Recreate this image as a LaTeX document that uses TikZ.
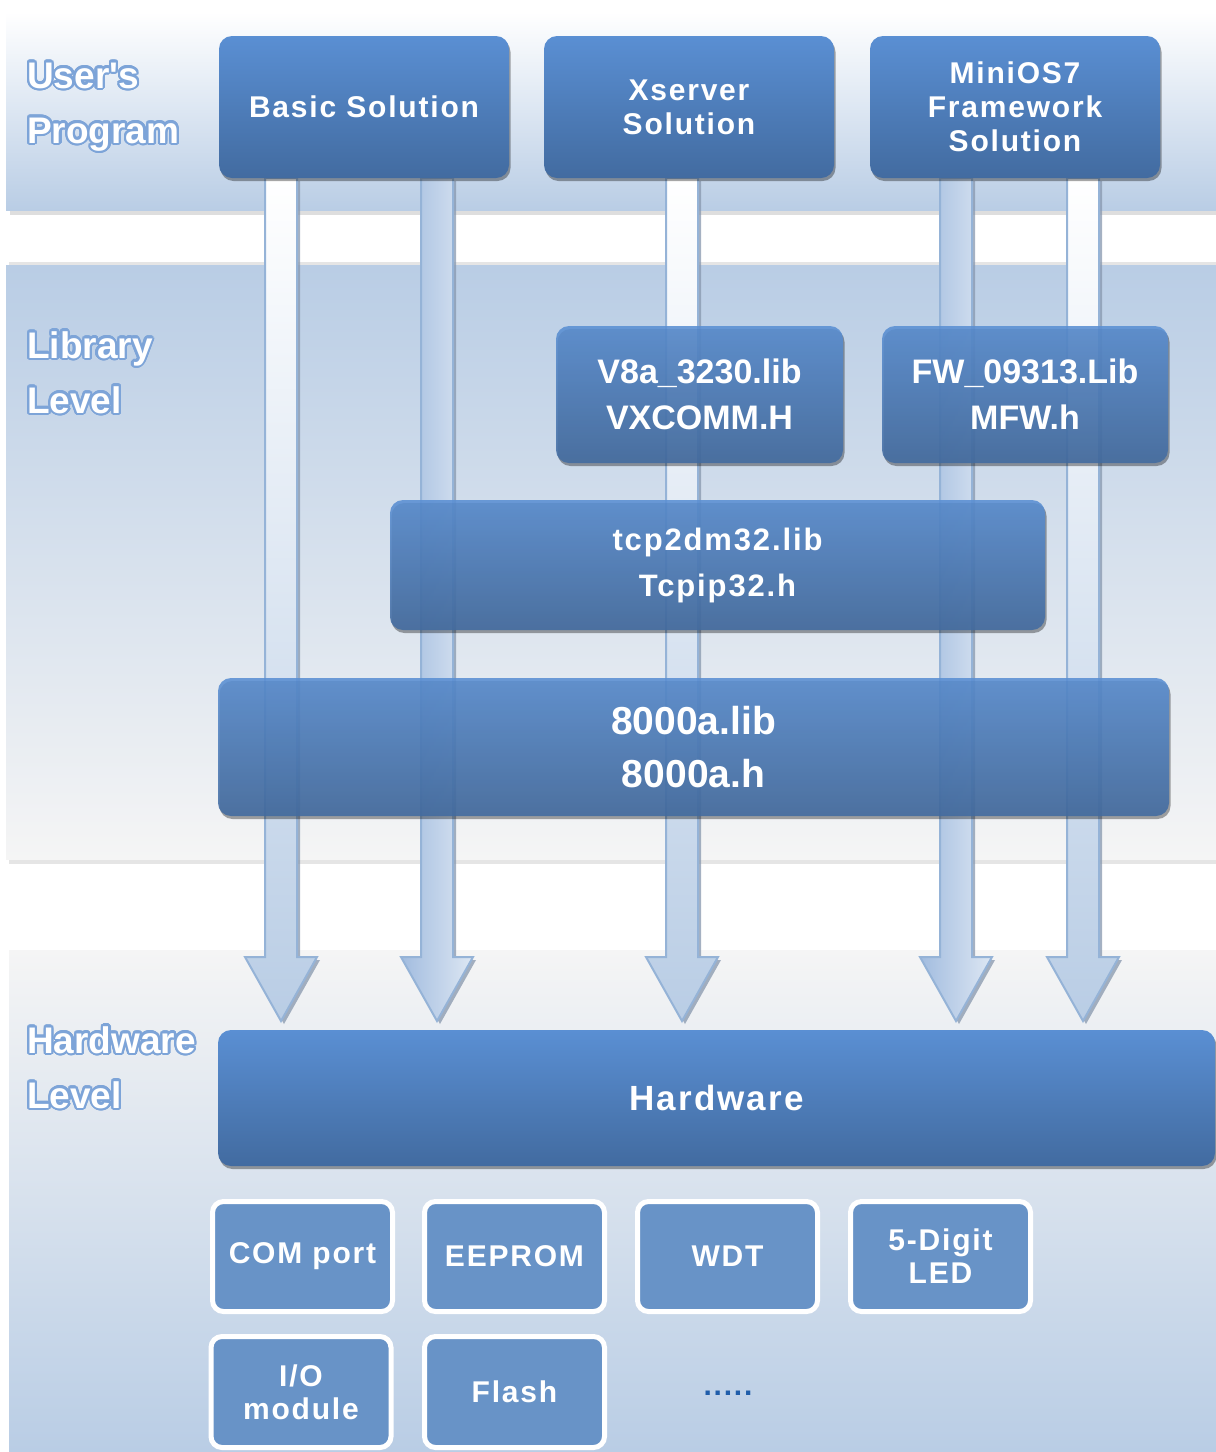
\documentclass[tikz,border=0pt]{standalone}
\usepackage{fontspec}
\setmainfont{Liberation Sans}
\newfontfamily\boxfont{Liberation Sans}[LetterSpace=6]
\newfontfamily\dotfont{Liberation Sans}[LetterSpace=6]
\newfontfamily\labelfont{Liberation Sans}[Ligatures=TeXOff]
\usepackage{contour}
\contourlength{2.2pt}
\contournumber{24}
\usetikzlibrary{shadows}
\definecolor{bandblue}{HTML}{B9CDE5}
\definecolor{bandgrey}{HTML}{F5F5F5}
\definecolor{boxtop}{HTML}{5A8FD3}
\definecolor{boxbot}{HTML}{426BA0}
\definecolor{smallfill}{HTML}{6893C7}
\definecolor{arrowline}{HTML}{95B3D7}
\definecolor{arrowblue}{HTML}{B9CDE5}
\definecolor{arrowdeep}{HTML}{A2BCDF}
\definecolor{arrowlight}{HTML}{DDE7F3}
\definecolor{arrowshadow}{HTML}{8797AD}
\definecolor{glow}{HTML}{7DA4D8}
\definecolor{dotblue}{HTML}{1F5DAA}
\begin{document}
\begin{tikzpicture}[x=1pt,y=-1pt,
  bigbox/.style={shade, top color=boxtop, bottom color=boxbot, rounded corners=13pt,
    text=white, align=center, inner sep=0pt,
    drop shadow={shadow xshift=1.5pt, shadow yshift=-3pt, opacity=.35, fill=black}},
  libbox/.style={bigbox, fill opacity=0.88, text opacity=1},
  smallbox/.style={draw=white, line width=5pt, fill=smallfill, rounded corners=11pt,
    text=white, align=center, inner sep=0pt, minimum width=180pt, minimum height=110pt,
    font=\boxfont\bfseries\fontsize{30}{33}\selectfont},
  toptext/.style={font=\boxfont\bfseries\fontsize{30}{34}\selectfont},
  libtext/.style={font=\bfseries\fontsize{34}{46}\selectfont},
  leveltext/.style={anchor=base west, inner sep=0pt, text=white,
    font=\labelfont\bfseries\fontsize{37}{40}\selectfont},
  arrowshade/.style={fill=arrowshadow, opacity=.75},
  arrowv/.style={top color=white, bottom color=arrowblue, draw=arrowline, line width=2pt, line join=miter},
  arrowh/.style={left color=arrowdeep, right color=arrowlight, draw=arrowline, line width=2pt, line join=miter}
]
\useasboundingbox (0,0) rectangle (1216,1452);
% ---- bands
\fill[black!13] (10,14) rectangle (1216,215);
\shade[top color=white, bottom color=bandblue] (6,12) rectangle (1216,210);
\fill[black!10] (9,262) rectangle (1216,864);
\shade[top color=bandblue, bottom color=bandgrey] (6,265) rectangle (1216,859);
\shade[top color=bandgrey, bottom color=bandblue] (9,950) rectangle (1216,1452);
% ---- arrows
\foreach \cx/\st in {281/arrowv, 437/arrowh, 682/arrowv, 956/arrowh, 1083/arrowv}{
  \fill[arrowshade, shift={(3,3)}] (\cx-16,178) -- (\cx-16,957) -- (\cx-36,957) -- (\cx,1021)
     -- (\cx+36,957) -- (\cx+16,957) -- (\cx+16,178) -- cycle;
  \path[\st] (\cx-16,178) -- (\cx-16,957) -- (\cx-36,957) -- (\cx,1021)
     -- (\cx+36,957) -- (\cx+16,957) -- (\cx+16,178) -- cycle;
}
% ---- user's program boxes
\node[bigbox, toptext, minimum width=290pt, minimum height=142pt] (basic) at (364,107) {Basic Solution};
\node[bigbox, toptext, minimum width=290pt, minimum height=142pt] (xserver) at (689,107) {Xserver\\Solution};
\node[bigbox, toptext, minimum width=290pt, minimum height=142pt] (minios) at (1015,107) {MiniOS7\\Framework\\Solution};
% ---- library boxes
\node[libbox, libtext, minimum width=287pt, minimum height=137pt] (v8a) at (699.5,394.5) {V8a\_3230.lib\\VXCOMM.H};
\node[libbox, libtext, minimum width=286pt, minimum height=137pt] (fw) at (1025,394.5) {FW\_09313.Lib\\MFW.h};
\node[libbox, toptext, font=\boxfont\bfseries\fontsize{31}{46}\selectfont, minimum width=655pt, minimum height=130pt] (tcp) at (717.5,565) {tcp2dm32.lib\\Tcpip32.h};
\node[libbox, font=\bfseries\fontsize{39}{53}\selectfont, minimum width=951pt, minimum height=138pt] (liba) at (693.5,747) {8000a.lib\\8000a.h};
% ---- hardware
\node[bigbox, font=\boxfont\bfseries\fontsize{35}{40}\selectfont, minimum width=997pt, minimum height=136pt] (hw) at (716.5,1098) {Hardware};
\node[smallbox] (com) at (302.5,1256.5) {COM port};
\node[smallbox] (eeprom) at (514.5,1256.5) {EEPROM};
\node[smallbox] (wdt) at (727.5,1256.5) {WDT};
\node[smallbox] (led) at (940.5,1256.5) {5-Digit\\LED};
\node[smallbox, minimum height=111pt] (io) at (301,1392) {I/O\\module};
\node[smallbox, minimum height=111pt] (flash) at (514.5,1392) {Flash};
\node[text=dotblue, font=\dotfont\bfseries\fontsize{30}{30}\selectfont] (dots) at (728,1393) {.....};
% ---- level labels
\node[leveltext] (lu1) at (27,88) {\contour{glow}{User's}};
\node[leveltext] (lu2) at (27,143) {\contour{glow}{Program}};
\node[leveltext] (ll1) at (27,358) {\contour{glow}{Library}};
\node[leveltext] (ll2) at (27,413) {\contour{glow}{Level}};
\node[leveltext] (lh1) at (27,1053) {\contour{glow}{Hardware}};
\node[leveltext] (lh2) at (27,1108) {\contour{glow}{Level}};
\end{tikzpicture}
\end{document}
